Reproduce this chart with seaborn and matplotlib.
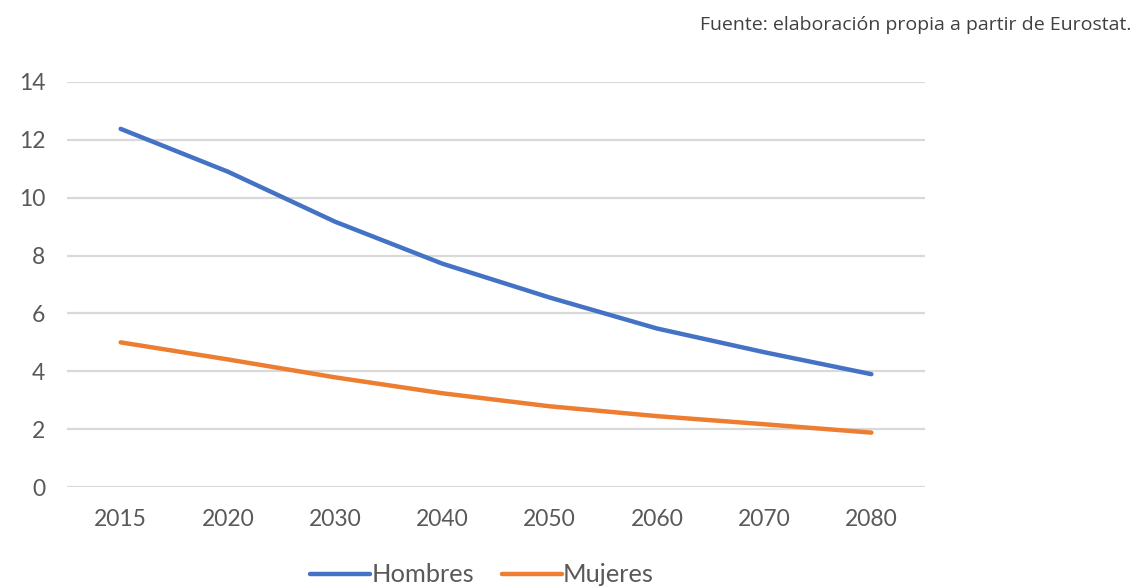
import matplotlib
matplotlib.use("Agg")
import matplotlib.pyplot as plt
import seaborn as sns
import pandas as pd

years = ["2015", "2020", "2030", "2040", "2050", "2060", "2070", "2080"]
hombres = [12.38, 10.9, 9.17, 7.72, 6.55, 5.48, 4.66, 3.9]
mujeres = [5.0, 4.41, 3.79, 3.24, 2.79, 2.45, 2.17, 1.88]
series_names = ["Hombres", "Mujeres"]
colors = ["#4472C4", "#ED7D31"]

df = pd.DataFrame({
    "year": years * 2,
    "value": hombres + mujeres,
    "serie": [series_names[0]] * len(years) + [series_names[1]] * len(years),
})

sns.set_theme(style="white")
plt.rcParams["font.family"] = ["Lato", "DejaVu Sans"]

fig = plt.figure(figsize=(11.34, 5.87), dpi=100)
ax = fig.add_axes([67 / 1134, 1 - 487 / 587, (925 - 67) / 1134, (487 - 82) / 587])

sns.lineplot(data=df, x="year", y="value", hue="serie", palette=colors,
             linewidth=3.2, ax=ax, sort=False, legend=False,
             solid_capstyle="round")

ax.set_xlim(-0.5, len(years) - 0.5)
ax.set_ylim(0, 14)
ax.set_yticks(range(0, 15, 2))
ax.yaxis.grid(True, color="#D9D9D9", linewidth=1.6)
ax.set_axisbelow(True)
for s in ax.spines.values():
    s.set_visible(False)
ax.set_xlabel("")
ax.set_ylabel("")
ax.tick_params(axis="both", length=0, labelsize=16.5, labelcolor="#595959")
ax.tick_params(axis="y", pad=15.5)
ax.tick_params(axis="x", pad=16)

handles = [plt.Line2D([], [], color=c, linewidth=3.2, solid_capstyle="round") for c in colors]
fig.legend(handles, series_names, loc="center", bbox_to_anchor=(482 / 1134, 1 - 575 / 587),
           ncol=2, frameon=False, fontsize=18.3, labelcolor="#595959",
           handlelength=2.35, handletextpad=0.05, columnspacing=1.1)

fig.text(1131 / 1134, 1 - 25 / 587, "Fuente: elaboración propia a partir de Eurostat.",
         ha="right", va="center", fontsize=14, color="#404040",
         family=["Open Sans", "DejaVu Sans"])

fig.savefig("out.png", dpi=100, facecolor="white")
